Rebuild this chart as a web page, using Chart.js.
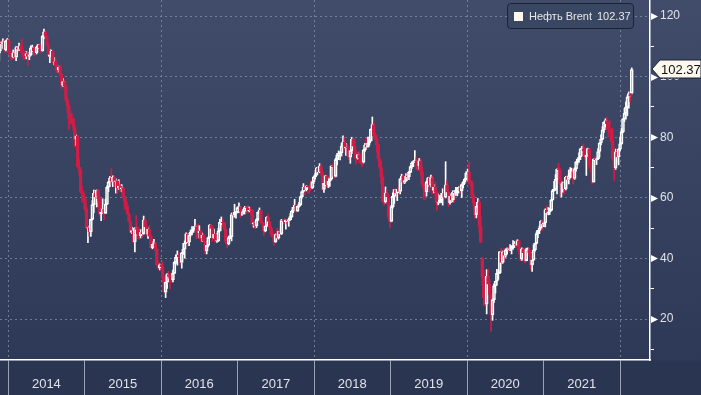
<!DOCTYPE html>
<html>
<head>
<meta charset="utf-8">
<script src="https://cdn.jsdelivr.net/npm/chart.js@4.4.1/dist/chart.umd.min.js"></script>
<style>
  html, body { margin: 0; padding: 0; }
  body {
    width: 701px; height: 395px; overflow: hidden;
    background: linear-gradient(to bottom, #404c69 0px, #2d3956 360px, #2a3552 361px, #2a3552 395px);
    font-family: "Liberation Sans", Arial, sans-serif;
  }
  #wrap { position: relative; width: 701px; height: 395px; }
  #legend {
    position: absolute; left: 507px; top: 3px; width: 125px; height: 24px;
    border: 1px solid #1b2336; border-radius: 4px; background: rgba(58, 70, 98, 0.85);
    color: #e8e8ea; font-size: 11px; line-height: 24px; white-space: nowrap;
  }
  #legend .sw { position: absolute; left: 6px; top: 8px; width: 9px; height: 9px; background: #fff8f0; }
  #legend .name { position: absolute; left: 21px; top: 0; }
  #legend .val { position: absolute; left: 89px; top: 0; }
</style>
</head>
<body>
<div id="wrap">
  <canvas id="oilChart" width="701" height="395"></canvas>
  <div id="legend"><span class="sw"></span><span class="name">Нефть Brent</span><span class="val">102.37</span></div>
</div>
<script>
// weekly Brent candles, first week ends 15 Nov 2013
const startTime = Date.UTC(2013, 10, 15);
const WEEK = 7 * 24 * 3600 * 1000;
const yearLabels = ["2014", "2015", "2016", "2017", "2018", "2019", "2020", "2021"];
const yearTicks = [2014, 2015, 2016, 2017, 2018, 2019, 2020, 2021, 2022];

const opens = [
  105.1,108.5,111.0,110.8,111.6,108.8,111.8,
  112.2,107.8,107.3,106.5,107.9, 106.4,109.6,109.1,110.0, 109.1,108.1,108.0,106.9, 107.6,106.7,107.3,109.5, 109.6,108.6,107.9,109.8,110.5, 109.4,108.6,113.4,114.8, 113.3,110.6,106.7,107.2, 108.4,105.0,105.0,103.5,102.3, 103.2,100.8,97.1,98.4, 97.0,92.3,90.2,86.2,86.1, 85.9,83.4,79.4,80.4, 70.2,69.1,61.9,61.4,
  59.5,56.4,50.1,50.2,48.8, 52.9,57.8,61.5,60.2, 62.6,59.7,54.7,55.3, 56.4,54.9,57.9,63.5, 65.3,66.5,65.4,66.8,65.4, 65.6,63.3,63.9,63.0, 63.3,60.3,58.7,57.1,54.6, 52.2,48.6,49.2,45.5, 50.1,49.6,48.1,47.5, 48.6,48.1,52.7,50.5,48.0, 49.6,47.4,43.6,44.7, 44.9,43.0,37.9,36.9,
  37.9,37.3,33.6,28.9,32.2, 34.7,34.1,33.4,33.0, 35.1,38.7,40.4,41.2, 40.4,38.7,41.9,43.1,45.1, 48.1,45.4,47.8,48.7, 49.3,49.6,50.5,49.2, 48.4,49.0,46.8,47.6,45.7, 42.5,44.3,46.9,50.9, 49.9,46.8,48.0,45.8,45.9, 49.1,51.9,51.9,51.8, 49.7,45.6,44.8,46.9, 47.2,54.5,54.3,55.2,55.2,
  56.8,57.1,55.5,55.5, 55.5,56.8,56.7,55.8, 56.0,55.9,51.4,51.8,50.8, 52.8,55.2,56.0,52.0, 51.7,49.1,50.8,53.6, 52.2,50.0,48.2,47.4,45.5, 47.9,46.7,48.9,48.1, 52.5,52.4,52.1,52.7, 52.4,52.8,53.8,55.6,56.9, 57.5,55.6,57.2,57.8, 60.4,62.1,63.5,62.7, 63.9,63.7,63.4,63.2,65.3,
  66.9,67.6,69.9,68.6, 70.5,68.6,62.8,64.8, 67.3,64.4,65.5,66.2,70.5, 70.3,67.1,72.6,74.1, 74.6,74.9,77.1,78.5, 76.4,76.8,76.5,73.4,75.6, 79.4,77.1,75.3,73.1, 74.3,73.2,72.8,71.8,75.8, 77.4,76.8,78.1,78.8, 82.7,84.2,80.4,79.8, 77.6,73.0,70.2,66.8,58.8, 58.7,61.7,60.3,53.8,
  52.2,57.1,60.5,62.7, 61.6,62.8,62.1,66.3, 67.1,65.1,65.7,67.2,67.0, 68.4,70.3,71.6,72.0, 72.2,70.9,70.6,72.2,68.7, 64.5,63.3,62.0,65.2, 66.6,64.2,66.7,62.5, 63.5,61.9,58.5,58.6,59.3, 60.4,61.5,60.2,64.3, 61.9,58.4,60.5,59.4, 61.9,61.7,62.5,63.3,63.4, 62.4,64.4,65.2,66.1,
  68.2,68.6,65.0,64.9,60.7, 58.2,54.5,57.3,58.5, 50.5,40.0,33.9,27.0, 24.9,34.1,31.5,28.1, 21.4,26.4,31.0,32.5,35.1, 35.3,42.3,38.7,42.2, 41.0,42.8,43.2,43.1,43.3, 43.5,44.4,44.8,44.4, 45.8,42.7,39.8,43.2, 41.9,39.3,42.9,42.9,41.8, 37.9,39.5,42.8,45.0, 48.2,49.3,50.0,52.3,
  51.3,51.8,56.0,55.1,55.4, 55.9,59.3,62.4,62.9, 66.1,69.4,69.2,64.5, 64.6,64.9,63.0,66.8,66.1, 67.3,68.3,68.7,66.4, 69.6,71.9,72.7,73.5, 76.2,76.2,75.6,73.6,74.1, 76.3,70.7,70.6,65.2, 72.7,72.6,72.9,75.3, 78.1,79.3,82.4,84.9,85.5, 84.4,82.7,82.2,78.9, 72.7,69.9,75.2,73.5,76.1,
  77.8,81.8,86.1,87.9, 90.0,93.3,94.4,94.6
];
const highs = [
  108.8,111.5,112.0,112.5,112.0,111.9,112.6,
  112.4,108.5,107.9,108.8,108.3, 110.0,110.0,111.1,110.5, 112.4,108.9,108.3,108.3, 108.0,108.0,110.2,110.4, 110.0,109.7,110.0,110.7,110.9, 109.7,113.6,115.7,115.0, 113.5,111.0,108.9,108.8, 108.6,106.3,105.9,104.1,103.5, 103.8,101.2,99.4,98.9, 97.4,93.3,90.6,87.5,88.0, 86.4,84.0,80.8,80.5, 72.7,69.9,63.7,62.1,
  60.3,57.0,50.7,50.9,53.0, 59.1,62.6,62.3,62.6, 62.7,60.5,56.2,59.7, 57.6,59.6,64.0,65.4, 67.1,69.6,67.3,67.1,66.3, 65.7,66.0,64.6,64.4, 63.4,60.8,59.6,57.5,55.0, 52.4,50.4,49.4,50.1, 54.2,50.4,50.0,49.5, 49.3,54.0,53.1,50.9,50.1, 50.9,47.8,45.6,46.3, 45.4,43.5,39.0,38.2,
  38.2,38.8,34.0,32.4,35.0, 35.8,34.8,35.6,36.2, 39.0,41.2,42.5,41.9, 41.0,42.0,45.0,45.8,48.5, 48.2,48.3,49.4,50.5, 50.5,52.9,51.0,51.3, 50.8,49.4,48.4,48.0,45.7, 45.0,47.1,51.2,51.2, 50.3,49.7,48.2,48.1,50.0, 52.9,53.7,53.1,51.9, 49.8,47.3,47.4,49.9, 55.0,55.0,57.9,55.6,57.0,
  58.4,57.1,56.1,56.2, 57.2,57.1,57.4,57.0, 56.8,56.2,52.0,51.9,53.1, 55.4,56.7,56.0,52.4, 51.9,50.9,53.8,54.7, 52.3,50.7,49.0,47.5,48.1, 50.0,49.0,50.0,52.9, 53.0,53.1,52.5,53.0, 53.3,54.8,55.9,56.9,59.5, 57.8,57.4,58.5,60.5, 62.3,64.7,64.0,64.0, 64.1,64.0,65.8,65.4,67.1,
  68.3,70.1,70.4,71.3, 70.9,68.9,65.0,67.4, 67.5,66.6,66.3,70.6,71.3, 70.6,73.1,74.7,75.5, 75.3,78.0,80.5,80.0, 78.0,77.8,77.0,75.8,80.0, 79.8,79.3,75.6,75.0, 75.3,74.6,73.3,76.0,78.0, 79.7,80.1,80.1,82.8, 86.7,85.1,81.3,80.8, 77.9,73.3,72.0,67.9,61.3, 63.6,62.7,61.0,54.6,
  57.6,61.7,62.8,63.0, 62.8,63.6,66.4,67.8, 67.5,66.8,68.0,68.7,68.8, 70.5,71.9,72.3,75.6, 73.2,71.5,73.0,72.9,70.2, 64.9,63.6,65.6,66.8, 67.2,67.5,67.2,64.5, 65.2,62.1,61.3,60.8,61.5, 63.0,63.4,71.95,65.9, 62.1,61.3,60.8,62.4, 62.0,63.5,63.4,63.7,64.6, 64.6,65.5,66.5,68.6,
  69.5,71.8,65.7,65.6,61.5, 58.6,57.4,59.8,59.4, 53.8,40.4,36.0,29.2, 36.3,36.3,33.0,28.4, 27.0,31.6,32.5,36.4,36.2, 42.4,43.4,42.5,43.3, 43.2,43.5,43.9,44.6,44.1, 45.9,45.6,46.0,46.2, 46.0,42.9,43.5,43.4, 42.9,43.4,43.5,43.4,41.9, 41.9,44.5,45.1,48.8, 49.3,50.7,52.5,52.5,
  51.9,56.4,57.4,56.8,56.6, 59.5,62.8,65.5,67.7, 69.6,71.4,69.9,65.3, 65.2,65.0,67.1,67.7,69.2, 70.0,69.8,69.6,69.9, 72.0,72.9,74.9,76.4, 77.0,77.8,76.6,74.2,76.4, 76.4,71.9,71.6,72.9, 73.7,73.1,76.3,78.2, 80.8,83.5,85.1,86.1,86.7, 84.9,85.5,82.8,82.9, 75.3,76.1,76.2,76.2,80.1,
  82.9,86.2,89.5,91.7, 93.7,95.0,96.2,102.9
];
const lows = [
  104.8,107.8,109.5,109.3,108.2,108.5,110.8,
  107.5,105.8,105.5,106.2,105.8, 105.3,107.8,108.6,108.0, 106.6,105.6,105.6,105.9, 103.7,105.6,106.9,108.4, 106.9,106.9,107.5,109.2,108.8, 107.8,108.4,112.5,112.6, 110.3,106.7,104.6,106.5, 104.6,103.9,102.1,101.2,101.5, 100.1,96.2,96.8,95.8, 91.6,88.1,82.6,84.4,84.6, 82.1,76.8,77.3,70.1, 67.5,61.7,58.5,59.3,
  55.7,49.7,45.2,47.4,47.3, 52.7,55.1,57.8,57.0, 58.6,54.2,52.5,55.0, 52.8,54.8,57.8,62.1, 63.8,64.2,63.7,63.6,61.6, 61.3,62.8,62.0,62.0, 59.9,56.3,56.3,54.5,52.0, 48.6,48.2,45.1,42.2, 47.5,46.5,46.3,46.8, 46.9,48.0,48.6,47.6,46.6, 47.3,43.6,43.2,44.2, 42.4,37.7,36.3,36.2,
  36.1,32.2,28.8,27.1,30.1, 32.0,30.0,32.1,32.3, 35.0,38.3,37.8,39.4, 38.1,36.8,41.4,40.1,44.9, 44.1,44.2,47.4,47.8, 48.6,49.5,46.5,46.8, 46.8,45.8,45.6,45.5,41.5, 41.5,43.8,46.8,47.6, 45.5,46.6,45.3,45.3,45.6, 49.0,51.1,50.5,49.3, 45.1,43.5,44.5,46.5, 45.8,52.7,53.6,53.3,55.0,
  55.1,53.6,54.2,54.6, 54.7,54.9,55.2,55.4, 54.6,51.4,50.3,49.7,50.2, 52.5,55.0,51.6,50.5, 47.6,48.8,50.5,51.1, 49.6,47.3,46.9,44.4,45.3, 46.6,46.4,47.8,47.9, 51.4,51.5,49.7,51.3, 50.6,52.6,53.5,55.1,56.8, 55.2,55.5,56.9,57.4, 59.9,61.8,61.1,62.3, 61.7,61.4,62.4,63.1,64.7,
  66.2,67.4,68.6,68.3, 67.6,62.6,61.8,64.1, 63.5,63.4,63.8,65.9,68.7, 66.6,66.9,70.9,73.3, 72.5,73.8,76.7,75.8, 74.0,74.1,72.6,71.4,74.6, 76.6,73.1,71.2,72.8, 71.6,71.2,70.3,71.5,75.3, 75.9,76.7,77.4,78.7, 82.6,79.6,78.9,75.1, 72.4,69.7,64.6,58.4,57.5, 58.3,58.5,53.2,50.2,
  52.1,56.6,58.2,60.2, 59.1,61.3,61.3,65.7, 64.6,64.7,65.4,66.7,66.0, 68.3,69.7,70.3,71.8, 69.3,68.9,69.5,67.5,63.9, 59.5,59.5,60.6,63.8, 61.9,63.6,61.3,61.6, 59.4,55.9,57.7,58.3,58.4, 57.6,59.9,60.0,61.6, 57.1,57.9,58.4,58.7, 58.6,60.8,60.7,61.6,61.6, 60.1,63.3,64.7,66.0,
  65.6,64.6,64.0,60.6,57.3, 53.3,53.4,56.6,48.4, 45.2,31.0,24.5,24.6, 21.7,31.0,26.9,16.0, 19.6,25.5,28.6,31.2,33.1, 35.0,37.3,38.4,39.5, 40.4,41.5,42.3,42.6,41.5, 43.0,43.7,43.7,44.3, 41.5,39.2,39.4,40.9, 38.5,39.2,41.8,40.9,36.5, 35.7,39.3,42.4,44.8, 46.9,48.2,49.7,49.2,
  50.5,50.4,54.6,54.4,54.5, 55.7,59.2,62.2,62.7, 61.3,67.3,60.5,60.3, 61.9,61.3,62.6,64.4,64.6, 66.6,66.7,64.6,66.1, 68.8,70.9,71.7,72.6, 73.9,73.6,72.8,67.4,73.8, 69.8,68.6,64.6,65.6, 70.7,71.0,72.6,73.5, 77.5,79.2,81.5,83.4,82.6, 80.2,81.6,78.2,72.4, 65.7,69.4,71.6,70.9,75.6,
  77.7,81.5,85.2,86.0, 87.1,89.6,91.7,94.3
];
const closes = [
  108.5,111.0,110.8,111.6,108.8,111.8,112.2,
  107.8,107.3,106.5,107.9,106.4, 109.6,109.1,110.0,109.1, 108.1,108.0,106.9,107.6, 106.7,107.3,109.5,109.6, 108.6,107.9,109.8,110.5,109.4, 108.6,113.4,114.8,113.3, 110.6,106.7,107.2,108.4, 105.0,105.0,103.5,102.3,103.2, 100.8,97.1,98.4,97.0, 92.3,90.2,86.2,86.1,85.9, 83.4,79.4,80.4,70.2, 69.1,61.9,61.4,59.5,
  56.4,50.1,50.2,48.8,52.9, 57.8,61.5,60.2,62.6, 59.7,54.7,55.3,56.4, 54.9,57.9,63.5,65.3, 66.5,65.4,66.8,65.4,65.6, 63.3,63.9,63.0,63.3, 60.3,58.7,57.1,54.6,52.2, 48.6,49.2,45.5,50.1, 49.6,48.1,47.5,48.6, 48.1,52.7,50.5,48.0,49.6, 47.4,43.6,44.7,44.9, 43.0,37.9,36.9,37.9,
  37.3,33.6,28.9,32.2,34.7, 34.1,33.4,33.0,35.1, 38.7,40.4,41.2,40.4, 38.7,41.9,43.1,45.1,48.1, 45.4,47.8,48.7,49.3, 49.6,50.5,49.2,48.4, 49.0,46.8,47.6,45.7,42.5, 44.3,46.9,50.9,49.9, 46.8,48.0,45.8,45.9,49.1, 51.9,51.9,51.8,49.7, 45.6,44.8,46.9,47.2, 54.5,54.3,55.2,55.2,56.8,
  57.1,55.5,55.5,55.5, 56.8,56.7,55.8,56.0, 55.9,51.4,51.8,50.8,52.8, 55.2,56.0,52.0,51.7, 49.1,50.8,53.6,52.2, 50.0,48.2,47.4,45.5,47.9, 46.7,48.9,48.1,52.5, 52.4,52.1,52.7,52.4, 52.8,53.8,55.6,56.9,57.5, 55.6,57.2,57.8,60.4, 62.1,63.5,62.7,63.9, 63.7,63.4,63.2,65.3,66.9,
  67.6,69.9,68.6,70.5, 68.6,62.8,64.8,67.3, 64.4,65.5,66.2,70.5,70.3, 67.1,72.6,74.1,74.6, 74.9,77.1,78.5,76.4, 76.8,76.5,73.4,75.6,79.4, 77.1,75.3,73.1,74.3, 73.2,72.8,71.8,75.8,77.4, 76.8,78.1,78.8,82.7, 84.2,80.4,79.8,77.6, 73.0,70.2,66.8,58.8,58.7, 61.7,60.3,53.8,52.2,
  57.1,60.5,62.7,61.6, 62.8,62.1,66.3,67.1, 65.1,65.7,67.2,67.0,68.4, 70.3,71.6,72.0,72.2, 70.9,70.6,72.2,68.7,64.5, 63.3,62.0,65.2,66.6, 64.2,66.7,62.5,63.5, 61.9,58.5,58.6,59.3,60.4, 61.5,60.2,64.3,61.9, 58.4,60.5,59.4,61.9, 61.7,62.5,63.3,63.4,62.4, 64.4,65.2,66.1,68.2,
  68.6,65.0,64.9,60.7,58.2, 54.5,57.3,58.5,50.5, 45.3,33.9,27.0,24.9, 34.1,31.5,28.1,21.4, 26.4,31.0,32.5,35.1,35.3, 42.3,38.7,42.2,41.0, 42.8,43.2,43.1,43.3,43.5, 44.4,44.8,44.4,45.8, 42.7,39.8,43.2,41.9, 39.3,42.9,42.9,41.8,37.9, 39.5,42.8,45.0,48.2, 49.3,50.0,52.3,51.3,
  51.8,56.0,55.1,55.4,55.9, 59.3,62.4,62.9,66.1, 69.4,69.2,64.5,64.6, 64.9,63.0,66.8,66.1,67.3, 68.3,68.7,66.4,69.6, 71.9,72.7,73.5,76.2, 76.2,75.6,73.6,74.1,76.3, 70.7,70.6,65.2,72.7, 72.6,72.9,75.3,78.1, 79.3,82.4,84.9,85.5,84.4, 82.7,82.2,78.9,72.7, 69.9,75.2,73.5,76.1,77.8,
  81.8,86.1,87.9,90.0, 93.3,94.4,93.5,102.37
];

const RED = "#cf1d48";
const WHITE = "#ffffff";
const GRID = "rgba(124, 142, 172, 0.8)";

const times = closes.map((c, i) => startTime + i * WEEK);
const isUp = closes.map((c, i) => c >= opens[i]);
const candleColor = isUp.map((u) => (u ? WHITE : RED));

const bodies = closes.map((c, i) => ({ x: times[i], y: [opens[i], c] }));
const upperWicks = closes.map((c, i) => ({ x: times[i], y: [Math.max(opens[i], c), highs[i]] }));
const lowerWicks = closes.map((c, i) => ({ x: times[i], y: [lows[i], Math.min(opens[i], c)] }));

// triangles on major ticks + last price tag
const axisMarks = {
  id: "axisMarks",
  afterDraw(chart) {
    const ctx = chart.ctx;
    const yScale = chart.scales.y;
    const right = chart.chartArea.right;
    ctx.save();
    ctx.fillStyle = WHITE;
    yScale.ticks.forEach((t) => {
      if (t.value % 20 !== 0) return;
      const py = Math.round(yScale.getPixelForValue(t.value)) + 0.5;
      ctx.beginPath();
      ctx.moveTo(right + 1, py - 3.5);
      ctx.lineTo(right + 8, py);
      ctx.lineTo(right + 1, py + 3.5);
      ctx.closePath();
      ctx.fill();
    });
    const last = closes[closes.length - 1];
    const ly = Math.round(yScale.getPixelForValue(last));
    ctx.beginPath();
    ctx.moveTo(right + 2, ly);
    ctx.lineTo(right + 10, ly - 9);
    ctx.lineTo(701, ly - 9);
    ctx.lineTo(701, ly + 9);
    ctx.lineTo(right + 10, ly + 9);
    ctx.closePath();
    ctx.fillStyle = "#fdf8ee";
    ctx.fill();
    ctx.strokeStyle = "#1c2336";
    ctx.lineWidth = 1;
    ctx.stroke();
    ctx.fillStyle = "#111111";
    ctx.font = '13px "Liberation Sans", Arial, sans-serif';
    ctx.textBaseline = "middle";
    ctx.textAlign = "left";
    ctx.fillText(last.toFixed(2), right + 11, ly + 1);
    ctx.restore();
  },
};

new Chart(document.getElementById("oilChart"), {
  type: "bar",
  data: {
    datasets: [
      {
        data: bodies,
        backgroundColor: isUp.map((u) => (u ? "rgba(0,0,0,0)" : RED)),
        borderColor: candleColor,
        borderWidth: 1,
        borderSkipped: false,
        barThickness: 3,
        grouped: false,
        order: 0,
      },
      {
        data: upperWicks,
        backgroundColor: candleColor,
        borderWidth: 0,
        barThickness: 1,
        grouped: false,
        order: 1,
      },
      {
        data: lowerWicks,
        backgroundColor: candleColor,
        borderWidth: 0,
        barThickness: 1,
        grouped: false,
        order: 1,
      },
    ],
  },
  options: {
    responsive: false,
    animation: false,
    devicePixelRatio: 1,
    layout: { padding: 0 },
    plugins: { legend: { display: false }, tooltip: { enabled: false } },
    scales: {
      x: {
        type: "linear",
        offset: false,
        min: Date.UTC(2013, 10, 22),
        max: Date.UTC(2022, 4, 23),
        afterBuildTicks: (scale) => {
          scale.ticks = yearTicks.map((y) => ({ value: Date.UTC(y, 0, 1) }));
        },
        afterFit: (scale) => {
          scale.height = 35;
          scale.paddingLeft = 0;
          scale.paddingRight = 0;
        },
        ticks: {
          autoSkip: false,
          maxRotation: 0,
          labelOffset: 38,
          padding: -18,
          color: "#dfe3ea",
          font: { size: 13, family: '"Liberation Sans", Arial, sans-serif' },
          callback: (value, index) => yearLabels[index] || "",
        },
        grid: {
          offset: false,
          drawOnChartArea: true,
          color: (ctx) => (ctx.tick && new Date(ctx.tick.value).getUTCFullYear() % 2 === 0 ? GRID : "rgba(0,0,0,0)"),
          tickColor: "#9aa2b4",
          tickLength: 35,
          tickBorderDash: [],
        },
        border: { color: WHITE, width: 1.5, dash: [2, 3] },
      },
      y: {
        position: "right",
        min: 6.5,
        max: 125.3,
        afterFit: (scale) => {
          scale.width = 51;
          scale.paddingTop = 0;
          scale.paddingBottom = 0;
        },
        ticks: {
          stepSize: 10,
          includeBounds: false,
          padding: 6,
          color: "#dfe3ea",
          font: { size: 12, family: '"Liberation Sans", Arial, sans-serif' },
          callback: (value) => (value % 20 === 0 ? String(value) : ""),
        },
        grid: {
          drawOnChartArea: true,
          color: (ctx) => (ctx.tick && ctx.tick.value % 20 === 0 ? GRID : "rgba(0,0,0,0)"),
          tickColor: (ctx) => (ctx.tick && ctx.tick.value % 20 !== 0 ? WHITE : "rgba(0,0,0,0)"),
          tickLength: 4,
          tickBorderDash: [],
        },
        border: { color: WHITE, width: 1.5, dash: [2, 3] },
      },
    },
  },
  plugins: [axisMarks],
});
</script>
</body>
</html>
